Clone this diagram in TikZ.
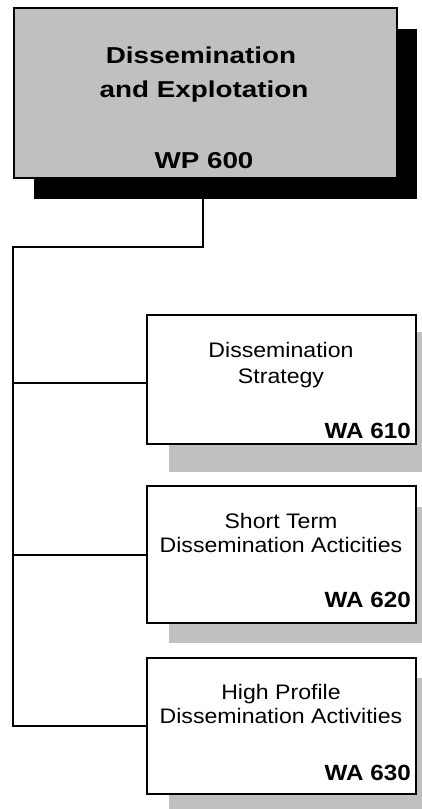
\documentclass[tikz,border=0pt]{standalone}
\usepackage{fontspec}
\setmainfont{Liberation Sans}
\definecolor{boxgray}{RGB}{192,192,192}
\begin{document}
\begin{tikzpicture}[x=1pt,y=-1pt,
  mainbox/.style={draw=black, line width=2pt, fill=boxgray, minimum width=383pt, minimum height=170pt, anchor=north west, inner sep=0pt},
  wabox/.style={draw=black, line width=2pt, fill=white, minimum width=269pt, anchor=north west, inner sep=0pt},
  conn/.style={draw=black, line width=2pt},
  bigtxt/.style={font=\fontsize{23}{27}\selectfont\bfseries, anchor=base, inner sep=0pt},
  smalltxt/.style={font=\fontsize{21}{25}\selectfont, anchor=base, inner sep=0pt},
  codetxt/.style={font=\fontsize{22}{26}\selectfont\bfseries, anchor=base east, inner sep=0pt}
]
\useasboundingbox (0,0) rectangle (422,809);
% shadows
\fill[black] (34,29) rectangle (417,199);
\fill[boxgray] (169,332) rectangle (422,472);
\fill[boxgray] (169,507) rectangle (422,643);
\fill[boxgray] (169,678) rectangle (422,809);
% boxes
\node[mainbox] (wp) at (13,7) {};
\node[wabox, minimum height=129pt] (wa1) at (146,314) {};
\node[wabox, minimum height=137pt] (wa2) at (146,485) {};
\node[wabox, minimum height=136pt] (wa3) at (146,657) {};
% texts
\node[bigtxt] (t1) at (201,63) {\scalebox{1.21}[1]{Dissemination}};
\node[bigtxt] (t2) at (204,97) {\scalebox{1.21}[1]{and Explotation}};
\node[bigtxt] (t3) at (204,168) {\scalebox{1.21}[1]{WP 600}};
\node[smalltxt] (a1) at (281,357) {\scalebox{1.1}[1]{Dissemination}};
\node[smalltxt] (a2) at (281,383) {\scalebox{1.1}[1]{Strategy}};
\node[codetxt] (a3) at (411,438) {\scalebox{1.1}[1]{WA 610}};
\node[smalltxt] (b1) at (281,528) {\scalebox{1.1}[1]{Short Term}};
\node[smalltxt] (b2) at (281,552) {\scalebox{1.1}[1]{Dissemination Acticities}};
\node[codetxt] (b3) at (411,607) {\scalebox{1.1}[1]{WA 620}};
\node[smalltxt] (c1) at (281,699) {\scalebox{1.1}[1]{High Profile}};
\node[smalltxt] (c2) at (281,723) {\scalebox{1.1}[1]{Dissemination Activities}};
\node[codetxt] (c3) at (411,780) {\scalebox{1.1}[1]{WA 630}};
% connectors
\coordinate (left) at (13,247);
\draw[conn] ([xshift=-2.5pt]wp.south) |- (left) -- (left |- wa3.west) -- (wa3.west);
\draw[conn] (left |- wa1.west) ++(0,3.5) -- ([yshift=-3.5pt]wa1.west);
\draw[conn] (left |- wa2.west) -- (wa2.west);
\end{tikzpicture}
\end{document}
